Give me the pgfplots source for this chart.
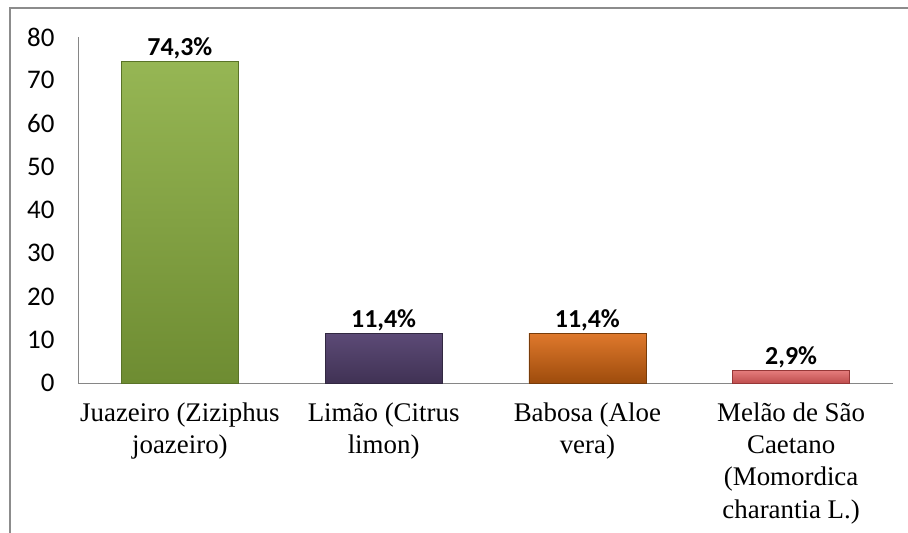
\documentclass[border=0pt]{standalone}
\usepackage{fontspec}
\setmainfont{Liberation Serif}
\newfontfamily\calfont{Carlito}
\usepackage{pgfplots}
\pgfplotsset{compat=1.18}
\definecolor{frame}{HTML}{8C8C8C}
\definecolor{axisgray}{HTML}{868686}
\begin{document}
\begin{tikzpicture}
\useasboundingbox (0,0) rectangle (908bp,533bp);
\draw[frame, line width=2bp] (10bp,0) -- (10bp,525bp) -- (908bp,525bp);
\begin{axis}[
  at={(78bp,150bp)}, anchor=south west,
  scale only axis, width=815bp, height=346bp,
  xmin=-0.5, xmax=3.5, ymin=0, ymax=80,
  ytick={0,10,...,80},
  xtick={0,1,2,3},
  xticklabels={{Juazeiro (Ziziphus\\joazeiro)},{Limão (Citrus\\limon)},{Babosa (Aloe\\vera)},{Melão de São\\Caetano\\(Momordica\\charantia L.)}},
  axis x line*=bottom, axis y line*=left,
  axis line style={axisgray, line width=1bp, -},
  major tick length=0pt,
  /pgf/number format/assume math mode=true,
  yticklabel style={font=\calfont\fontsize{27}{27}\selectfont, xshift=-20bp},
  xticklabel style={font=\fontsize{27}{32.5}\selectfont, align=center, yshift=-16bp},
  ybar, bar width=117bp, bar shift=0pt,
  clip=false,
  nodes near coords,
  point meta=explicit symbolic,
  every node near coord/.append style={font=\calfont\bfseries\fontsize{26}{26}\selectfont, inner sep=2bp, text=black},
]
\addplot[draw={rgb,255:red,90;green,115;blue,40}, top color={rgb,255:red,150;green,182;blue,84}, bottom color={rgb,255:red,110;green,140;blue,50}] coordinates {(0,74.3) [74,3\%]};
\addplot[draw={rgb,255:red,50;green,40;blue,65}, top color={rgb,255:red,92;green,74;blue,118}, bottom color={rgb,255:red,64;green,50;blue,84}] coordinates {(1,11.4) [11,4\%]};
\addplot[draw={rgb,255:red,120;green,60;blue,10}, top color={rgb,255:red,222;green,120;blue,44}, bottom color={rgb,255:red,158;green,76;blue,12}] coordinates {(2,11.4) [11,4\%]};
\addplot[draw={rgb,255:red,150;green,55;blue,55}, top color={rgb,255:red,228;green,124;blue,124}, bottom color={rgb,255:red,192;green,78;blue,78}] coordinates {(3,2.9) [2,9\%]};
\end{axis}
\end{tikzpicture}
\end{document}
